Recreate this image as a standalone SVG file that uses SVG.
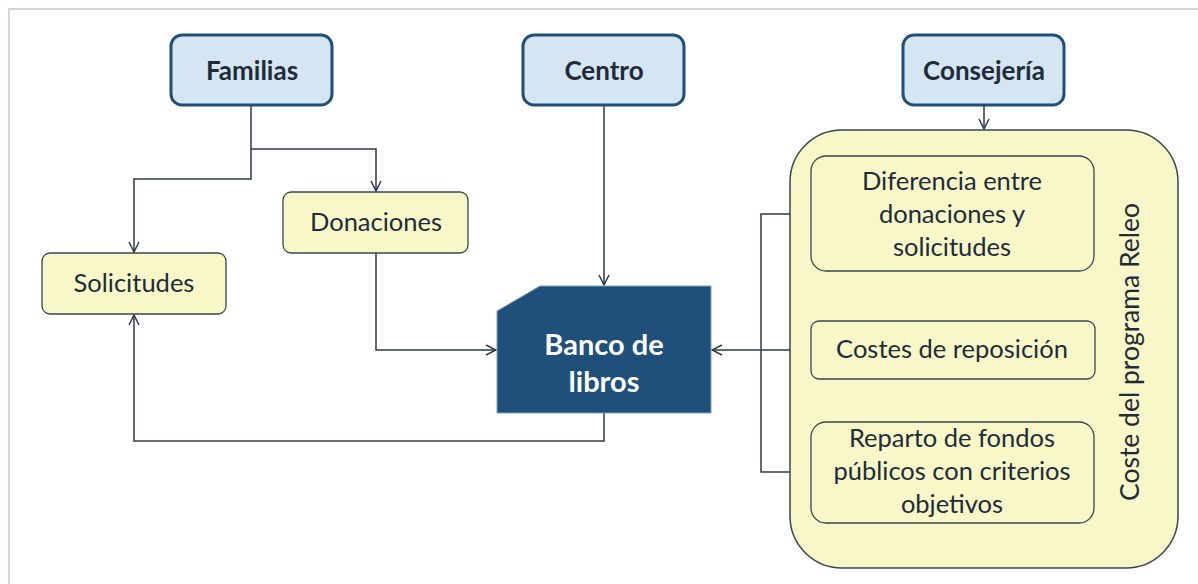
<svg xmlns="http://www.w3.org/2000/svg" width="1198" height="584" viewBox="0 0 1198 584">
<defs>
<marker id="arr" viewBox="0 0 12 12" refX="11" refY="6" markerWidth="12" markerHeight="12" markerUnits="userSpaceOnUse" orient="auto">
<path d="M1,1 L11,6 L1,11" fill="none" stroke="#2e3a48" stroke-width="1.5"/>
</marker>
<style>
.frame{fill:none;stroke:#cdd7e4;stroke-width:2}
.top{fill:#d5e5f1;stroke:#1f5079;stroke-width:3}
.yel{fill:#f8f7c8;stroke:#3a4552;stroke-width:1.3}
.big{fill:#f8f7c8;stroke:#3a4552;stroke-width:1.5}
.bank{fill:#1f5079;stroke:#7f9fbf;stroke-width:1}
.con{fill:none;stroke:#2e3a48;stroke-width:1.5}
text{font-family:Lato,"Open Sans","Liberation Sans",sans-serif;fill:#1e2b3a;text-anchor:middle}
.b{font-weight:bold;font-size:26px}
.n{font-size:25.5px}
.w{font-weight:bold;font-size:29px;fill:#ffffff}
</style>
</defs>
<rect class="frame" x="9" y="9" width="1200" height="600"/>
<g id="connectors">
<path class="con" d="M251,106 V149 H376 V191" marker-end="url(#arr)"/>
<path class="con" d="M251,149 V179 H134 V252" marker-end="url(#arr)"/>
<path class="con" d="M376,253 V350 H496" marker-end="url(#arr)"/>
<path class="con" d="M604,106 V285" marker-end="url(#arr)"/>
<path class="con" d="M604,413 V441 H134 V315" marker-end="url(#arr)"/>
<path class="con" d="M984,106 V129" marker-end="url(#arr)"/>
<path class="con" d="M811,350 H712" marker-end="url(#arr)"/>
<path class="con" d="M811,214 H761 V472 H811"/>
</g>
<g id="familias">
<rect class="top" x="171" y="35" width="161" height="70" rx="11"/>
<text class="b" x="252" y="80">Familias</text>
</g>
<g id="centro">
<rect class="top" x="523" y="35" width="161" height="70" rx="11"/>
<text class="b" x="604" y="80">Centro</text>
</g>
<g id="consejeria">
<rect class="top" x="903" y="35" width="161" height="70" rx="11"/>
<text class="b" x="984" y="80">Consejería</text>
</g>
<g id="donaciones">
<rect class="yel" x="283" y="192" width="185" height="61" rx="8"/>
<text class="n" x="376" y="231">Donaciones</text>
</g>
<g id="solicitudes">
<rect class="yel" x="42" y="253" width="184" height="61" rx="8"/>
<text class="n" x="134" y="292">Solicitudes</text>
</g>
<g id="banco">
<path class="bank" d="M540,286 H711 V413 H497 V311 Z"/>
<text class="w" x="604" y="355">Banco de</text>
<text class="w" x="604" y="392">libros</text>
</g>
<g id="coste-programa">
<rect class="big" x="790" y="130" width="388" height="438" rx="52"/>
<text class="n" x="0" y="0" transform="translate(1139,352) rotate(-90)" style="font-size:26.5px">Coste del programa Releo</text>
</g>
<g id="diferencia">
<rect class="yel" x="811" y="156" width="283" height="115" rx="15"/>
<text class="n" x="952" y="190">Diferencia entre</text>
<text class="n" x="952" y="223">donaciones y</text>
<text class="n" x="952" y="256">solicitudes</text>
</g>
<g id="costes">
<rect class="yel" x="811" y="321" width="284" height="58" rx="8"/>
<text class="n" x="952" y="358">Costes de reposición</text>
</g>
<g id="reparto">
<rect class="yel" x="811" y="422" width="283" height="101" rx="15"/>
<text class="n" x="952" y="447">Reparto de fondos</text>
<text class="n" x="952" y="480">públicos con criterios</text>
<text class="n" x="952" y="513">objetivos</text>
</g>
</svg>
